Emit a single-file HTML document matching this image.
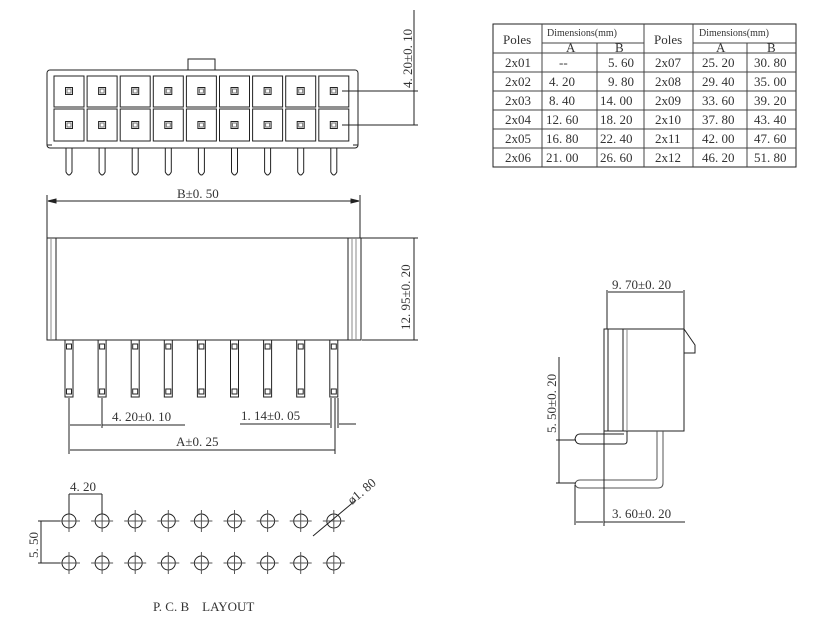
<!DOCTYPE html>
<html><head><meta charset="utf-8"><style>
html,body{margin:0;padding:0;background:#fff;}
svg{display:block;}
text{font-family:"Liberation Serif","Noto Serif CJK SC",serif;font-size:13px;fill:#333;stroke:none;}
</style></head><body>
<svg id="s" width="822" height="644" viewBox="0 0 822 644" xmlns="http://www.w3.org/2000/svg" stroke="#222" fill="none" stroke-width="1">
<!-- TOP VIEW -->
<rect x="188" y="59" width="27" height="11"/>
<rect x="47" y="70" width="311" height="78" rx="3"/>
<line x1="47" y1="145" x2="52" y2="145"/><line x1="353" y1="145" x2="358" y2="145"/>
<g id="cells"></g>
<line x1="342" y1="91" x2="418" y2="91"/>
<line x1="342" y1="125" x2="418" y2="125"/>
<line x1="414" y1="10" x2="414" y2="125"/>
<text transform="translate(412,88) rotate(-90)">4. 20±0. 10</text>
<!-- FRONT VIEW -->
<line x1="47" y1="195" x2="47" y2="238"/><line x1="360" y1="195" x2="360" y2="238"/>
<line x1="48" y1="201" x2="359" y2="201"/>
<path d="M48 201l8-2v4z M359 201l-8-2v4z" fill="#222"/>
<text x="177" y="198">B±0. 50</text>
<rect x="47" y="238" width="314" height="102"/>
<line x1="51" y1="238" x2="51" y2="340" stroke="#888"/>
<line x1="56" y1="238" x2="56" y2="340"/>
<line x1="348" y1="238" x2="348" y2="340"/>
<line x1="352" y1="238" x2="352" y2="340" stroke="#888"/>
<line x1="356" y1="238" x2="356" y2="340" stroke="#888"/>
<line x1="361" y1="238" x2="418" y2="238"/><line x1="362" y1="340" x2="418" y2="340"/>
<line x1="414" y1="238" x2="414" y2="340"/>
<text transform="translate(410,330) rotate(-90)">12. 95±0. 20</text>
<g id="pins2"></g>
<line x1="69" y1="398" x2="69" y2="454"/><line x1="102" y1="398" x2="102" y2="428"/>
<line x1="331" y1="398" x2="331" y2="428"/><line x1="335" y1="398" x2="335" y2="454"/><line x1="338" y1="398" x2="338" y2="428"/>
<line x1="70" y1="425" x2="101" y2="425"/><line x1="102" y1="425" x2="185" y2="425"/>
<text x="112" y="421">4. 20±0. 10</text>
<line x1="240" y1="424" x2="330" y2="424"/><line x1="339" y1="424" x2="356" y2="424"/>
<text x="241" y="420">1. 14±0. 05</text>
<line x1="70" y1="450" x2="335" y2="450"/>
<text x="176" y="446">A±0. 25</text>
<!-- SIDE VIEW -->
<line x1="607" y1="290" x2="607" y2="329"/><line x1="684" y1="290" x2="684" y2="329"/>
<line x1="608" y1="292" x2="683" y2="292"/>
<text x="612" y="289">9. 70±0. 20</text>
<rect x="604" y="329" width="80" height="102"/>
<line x1="608" y1="329" x2="608" y2="431"/>
<line x1="623" y1="329" x2="623" y2="431"/>
<line x1="627" y1="329" x2="627" y2="431" stroke="#888"/>
<path d="M684 329 L695 345 L695 353 L684 353"/>
<path d="M627 431 V441 Q627 444 624 444 H580 Q576 444 575 439 Q576 434 580 434 H624"/>
<path d="M663 431 V483 Q663 488 658 488 H580 Q576 488 575 484 Q576 480 580 480 H654 Q657 480 657 477 V431" stroke="#555"/>
<line x1="556" y1="440" x2="576" y2="440"/><line x1="556" y1="483" x2="576" y2="483"/>
<line x1="559" y1="357" x2="559" y2="483"/>
<text transform="translate(556,433) rotate(-90)">5. 50±0. 20</text>
<line x1="575" y1="485" x2="575" y2="525"/><line x1="604" y1="431" x2="604" y2="526"/>
<line x1="576" y1="522" x2="603" y2="522"/><line x1="604" y1="522" x2="685" y2="522"/>
<text x="612" y="518">3. 60±0. 20</text>
<!-- TABLE -->
<rect x="493" y="24" width="303" height="143"/>
<g stroke="#444">
<line x1="542" y1="24" x2="542" y2="167"/><line x1="597" y1="43" x2="597" y2="167"/>
<line x1="644" y1="24" x2="644" y2="167"/><line x1="693" y1="24" x2="693" y2="167"/>
<line x1="747" y1="43" x2="747" y2="167"/>
<line x1="542" y1="43" x2="644" y2="43"/><line x1="693" y1="43" x2="796" y2="43"/>
<line x1="493" y1="53" x2="796" y2="53"/><line x1="493" y1="72" x2="796" y2="72"/>
<line x1="493" y1="91" x2="796" y2="91"/><line x1="493" y1="110" x2="796" y2="110"/>
<line x1="493" y1="129" x2="796" y2="129"/><line x1="493" y1="148" x2="796" y2="148"/>
</g>
<g>
<text x="503" y="44">Poles</text><text x="654" y="44">Poles</text>
<text x="547" y="36" style="font-size:10px">Dimensions(mm)</text>
<text x="699" y="36" style="font-size:10px">Dimensions(mm)</text>
<text x="566" y="52">A</text><text x="615" y="52">B</text>
<text x="716" y="52">A</text><text x="767" y="52">B</text>
<text x="505" y="67">2x01</text><text x="559" y="67">--</text><text x="608" y="67">5. 60</text><text x="655" y="67">2x07</text><text x="702" y="67">25. 20</text><text x="754" y="67">30. 80</text>
<text x="505" y="86">2x02</text><text x="549" y="86">4. 20</text><text x="608" y="86">9. 80</text><text x="655" y="86">2x08</text><text x="702" y="86">29. 40</text><text x="754" y="86">35. 00</text>
<text x="505" y="105">2x03</text><text x="549" y="105">8. 40</text><text x="600" y="105">14. 00</text><text x="655" y="105">2x09</text><text x="702" y="105">33. 60</text><text x="754" y="105">39. 20</text>
<text x="505" y="124">2x04</text><text x="546" y="124">12. 60</text><text x="600" y="124">18. 20</text><text x="655" y="124">2x10</text><text x="702" y="124">37. 80</text><text x="754" y="124">43. 40</text>
<text x="505" y="143">2x05</text><text x="546" y="143">16. 80</text><text x="600" y="143">22. 40</text><text x="655" y="143">2x11</text><text x="702" y="143">42. 00</text><text x="754" y="143">47. 60</text>
<text x="505" y="162">2x06</text><text x="546" y="162">21. 00</text><text x="600" y="162">26. 60</text><text x="655" y="162">2x12</text><text x="702" y="162">46. 20</text><text x="754" y="162">51. 80</text>
</g>
<!-- PCB -->
<g id="pcb"></g>
<line x1="69" y1="494" x2="69" y2="514"/><line x1="102" y1="494" x2="102" y2="514"/>
<line x1="69" y1="494" x2="102" y2="494"/>
<text x="70" y="491">4. 20</text>
<line x1="38" y1="521" x2="60" y2="521"/><line x1="38" y1="563" x2="60" y2="563"/>
<line x1="41" y1="521" x2="41" y2="563"/>
<text transform="translate(38,558) rotate(-90)">5. 50</text>
<line x1="313" y1="536" x2="356" y2="500"/>
<text transform="translate(352,505) rotate(-40)">ø1. 80</text>
<text x="153" y="611">P. C. B　LAYOUT</text>
</svg>
<script>
var ns="http://www.w3.org/2000/svg";
function el(p,t,a){var e=document.createElementNS(ns,t);for(var k in a)e.setAttribute(k,a[k]);document.getElementById(p).appendChild(e);}
for(var i=0;i<9;i++){
 var cx=69+i*33.1;
 el("cells","rect",{x:cx-15,y:76,width:30,height:31});
 el("cells","rect",{x:cx-15,y:109,width:30,height:32});
 el("cells","rect",{x:cx-3.5,y:87.5,width:7,height:7});
 el("cells","rect",{x:cx-3.5,y:121.5,width:7,height:7});
 el("cells","rect",{x:cx-2,y:89,width:4,height:4,stroke:"#777"});
 el("cells","rect",{x:cx-2,y:123,width:4,height:4,stroke:"#777"});
 el("cells","path",{d:"M"+(cx-3)+" 148 V172 Q"+cx+" 178 "+(cx+3)+" 172 V148"});
 el("pins2","rect",{x:cx-4,y:340,width:8,height:57});
 el("pins2","rect",{x:cx-2.5,y:344,width:5,height:5});
 el("pins2","rect",{x:cx-2.5,y:389,width:5,height:5});
 [521,563].forEach(function(y){
  el("pcb","circle",{cx:cx,cy:y,r:7});
  el("pcb","line",{x1:cx-11,y1:y,x2:cx+11,y2:y,stroke:"#555"});
  el("pcb","line",{x1:cx,y1:y-11,x2:cx,y2:y+11,stroke:"#555"});
 });
}
</script>
</body></html>
